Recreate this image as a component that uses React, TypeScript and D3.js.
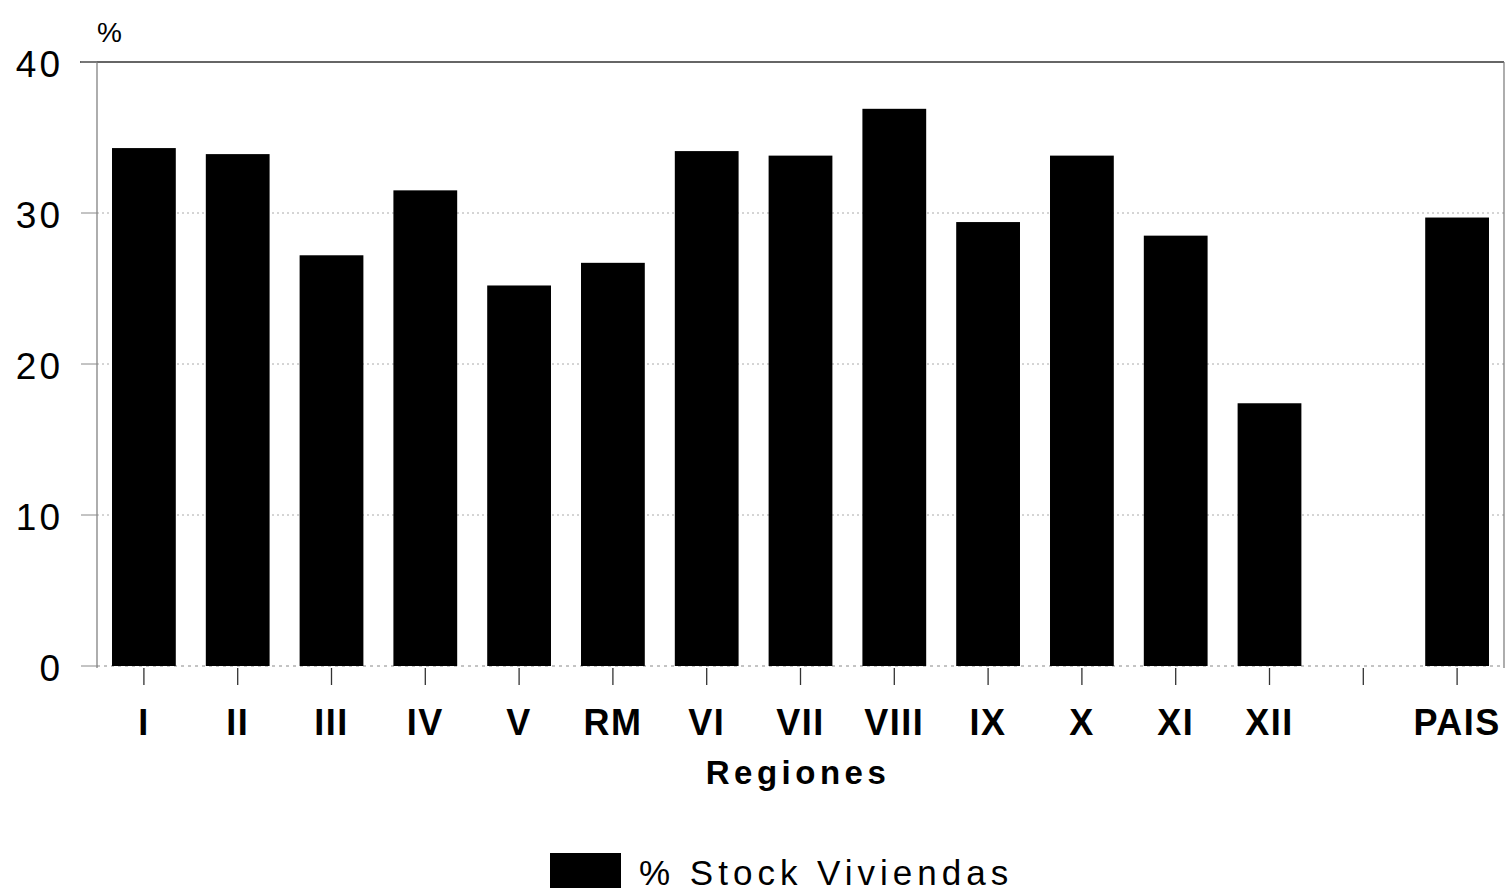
import React from "react";
import * as d3 from "d3";

const categories = ["I", "II", "III", "IV", "V", "RM", "VI", "VII", "VIII", "IX", "X", "XI", "XII", "", "PAIS"];
const values: (number | null)[] = [34.3, 33.9, 27.2, 31.5, 25.2, 26.7, 34.1, 33.8, 36.9, 29.4, 33.8, 28.5, 17.4, null, 29.7];
const yTicks = [0, 10, 20, 30, 40];
const seriesName = "% Stock Viviendas";
const xTitle = "Regiones";
const yUnit = "%";

const W = 1506, H = 893;
const left = 97, right = 1504, top = 62, bottom = 666;
const font = "'Liberation Sans', Arial, Helvetica, sans-serif";

export default function App() {
  const x = d3.scaleBand<number>().domain(d3.range(categories.length)).range([left, right]).paddingInner(0.32).paddingOuter(0.16);
  const y = d3.scaleLinear().domain([0, 40]).range([bottom, top]);
  return (
    <svg width={W} height={H} style={{ position: "absolute", left: 0, top: 0, background: "#fff" }}>
      {/* gridlines */}
      {yTicks.filter(t => t > 0 && t < 40).map(t => (
        <line key={t} x1={left} x2={right} y1={y(t)} y2={y(t)} stroke="#aaa" strokeWidth={1} strokeDasharray="2,3" />
      ))}
      {/* baseline */}
      <line x1={left} x2={right} y1={y(0)} y2={y(0)} stroke="#888" strokeWidth={1} strokeDasharray="3,4" />
      {/* frame */}
      <line x1={80} x2={right} y1={y(40)} y2={y(40)} stroke="#333" strokeWidth={1.5} />
      <line x1={left} x2={left} y1={y(40)} y2={y(0) + 2} stroke="#777" strokeWidth={1.2} />
      <line x1={right} x2={right} y1={y(40)} y2={y(0) + 2} stroke="#777" strokeWidth={1.2} />
      {yTicks.map(t => (
        <line key={"t" + t} x1={81} x2={left} y1={y(t)} y2={y(t)} stroke="#888" strokeWidth={1} />
      ))}
      {/* bars */}
      {values.map((v, i) => v == null ? null : (
        <rect key={i} x={x(i)} y={y(v)} width={x.bandwidth()} height={y(0) - y(v)} fill="#000" />
      ))}
      {/* x ticks */}
      {categories.map((c, i) => (
        <line key={"xt" + i} x1={(x(i) as number) + x.bandwidth() / 2} x2={(x(i) as number) + x.bandwidth() / 2} y1={y(0) + 2} y2={y(0) + 19} stroke="#333" strokeWidth={1.3} />
      ))}
      {/* y labels */}
      {yTicks.map(t => (
        <text key={"yl" + t} x={63} y={y(t) + 15} textAnchor="end" fontFamily={font} fontSize={37} letterSpacing={3} fill="#000">{t}</text>
      ))}
      <text x={97} y={42} fontFamily={font} fontSize={28} fill="#000">{yUnit}</text>
      {/* x labels */}
      {categories.map((c, i) => (
        <text key={"xl" + i} x={(x(i) as number) + x.bandwidth() / 2} y={735} textAnchor="middle" fontFamily={font} fontSize={36} fontWeight="bold" letterSpacing={1.5} fill="#000">{c}</text>
      ))}
      <text x={798} y={784} textAnchor="middle" fontFamily={font} fontSize={33} fontWeight="bold" letterSpacing={4.5} fill="#000">{xTitle}</text>
      {/* legend */}
      <rect x={550} y={853} width={71} height={35} fill="#000" />
      <text x={639} y={885} fontFamily={font} fontSize={35} letterSpacing={5} fill="#000">{seriesName}</text>
    </svg>
  );
}
